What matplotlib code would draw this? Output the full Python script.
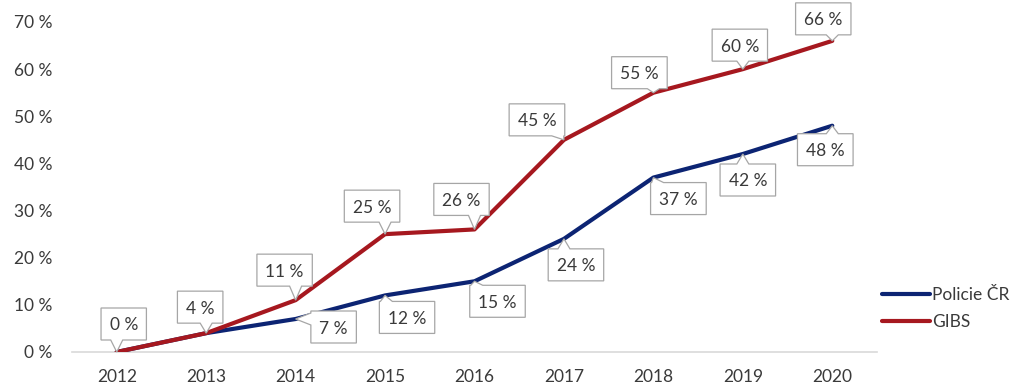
import matplotlib
matplotlib.use("Agg")
import matplotlib.pyplot as plt
import numpy as np
from matplotlib.path import Path
from matplotlib.patches import PathPatch

# ---- data ----
years = ["2012", "2013", "2014", "2015", "2016", "2017", "2018", "2019", "2020"]
policie = [0, 4, 7, 12, 15, 24, 37, 42, 48]
gibs = [0, 4, 11, 25, 26, 45, 55, 60, 66]
y_ticks = [0, 10, 20, 30, 40, 50, 60, 70]

# ---- layout (label box centre offsets from the point, in pixels; +x right, +y up) ----
gibs_off = [(7, 28), (-6, 26), (-11, 30), (-13, 28), (-13, 30), (-27, 20), (-14, 20), (-3, 24), (-9, 22)]
pol_off = [None, None, (38, -8), (22, -22), (23, -20), (12, -26), (25, -21), (5, -26), (-7, -24)]

plt.rcParams['font.family'] = ['Lato', 'DejaVu Sans']
FS = 12.5
TXT = '#3a3a3a'
BLUE = '#0C2473'
RED = '#A6181F'

W, H = 1019, 390
fig = plt.figure(figsize=(W / 100, H / 100), dpi=100)
ax = fig.add_axes([72 / W, 1 - 352 / H, (877 - 72) / W, (352 - 22) / H])

x = np.arange(len(years))
ax.plot(x, policie, color=BLUE, lw=3, solid_capstyle='round', solid_joinstyle='round',
        label='Policie ČR', zorder=3)
ax.plot(x, gibs, color=RED, lw=3, solid_capstyle='round', solid_joinstyle='round',
        label='GIBS', zorder=4)

ax.set_xlim(-0.5, len(years) - 0.5)
ax.set_ylim(0, 70)
ax.set_xticks(x)
ax.set_xticklabels(years)
ax.set_yticks(y_ticks)
ax.set_yticklabels([f"{v} %" for v in y_ticks])
ax.tick_params(axis='both', length=0, labelsize=FS, labelcolor=TXT)
ax.tick_params(axis='y', pad=14)
ax.tick_params(axis='x', pad=12)
for s in ['top', 'right', 'left']:
    ax.spines[s].set_visible(False)
ax.spines['bottom'].set_color('#d9d9d9')
ax.spines['bottom'].set_linewidth(1.2)
ax.spines['bottom'].set_zorder(1)

leg = ax.legend(loc='center left', bbox_to_anchor=(882 / W, 1 - 308.5 / H),
                bbox_transform=fig.transFigure, frameon=False, fontsize=FS,
                handlelength=2.75, handletextpad=0.15, borderpad=0, borderaxespad=0,
                labelspacing=0.6)
for t in leg.get_texts():
    t.set_color(TXT)
for l in leg.get_lines():
    l.set_linewidth(3)

fig.canvas.draw()
renderer = fig.canvas.get_renderer()


def callout(xi, v, off):
    tx, ty = ax.transData.transform((xi, v))
    cx, cy = tx + off[0], ty + off[1]
    t = fig.text(cx, cy, f"{v} %", transform=None, ha='center', va='center_baseline',
                 fontsize=FS, color=TXT, zorder=11)
    bb = t.get_window_extent(renderer)
    w = bb.width + 17
    h = 32
    x0, x1, y0, y1 = cx - w / 2, cx + w / 2, cy - h / 2, cy + h / 2
    dx = 0 if x0 <= tx <= x1 else (tx - x1 if tx > x1 else tx - x0)
    dy = 0 if y0 <= ty <= y1 else (ty - y1 if ty > y1 else ty - y0)
    hw = 6
    verts = [(x0, y0)]
    if abs(dy) >= abs(dx) and dy < 0:
        bx = min(max(tx, x0 + hw + 1), x1 - hw - 1)
        verts += [(bx - hw, y0), (tx, ty), (bx + hw, y0)]
    verts.append((x1, y0))
    if abs(dx) > abs(dy) and dx > 0:
        by = min(max(ty, y0 + hw + 1), y1 - hw - 1)
        verts += [(x1, by - hw), (tx, ty), (x1, by + hw)]
    verts.append((x1, y1))
    if abs(dy) >= abs(dx) and dy > 0:
        bx = min(max(tx, x0 + hw + 1), x1 - hw - 1)
        verts += [(bx + hw, y1), (tx, ty), (bx - hw, y1)]
    verts.append((x0, y1))
    if abs(dx) > abs(dy) and dx < 0:
        by = min(max(ty, y0 + hw + 1), y1 - hw - 1)
        verts += [(x0, by + hw), (tx, ty), (x0, by - hw)]
    verts.append((x0, y0))
    codes = [Path.MOVETO] + [Path.LINETO] * (len(verts) - 2) + [Path.CLOSEPOLY]
    p = PathPatch(Path(verts, codes), transform=None, fc='white', ec='#a6a6a6',
                  lw=0.9, zorder=10, joinstyle='miter')
    fig.add_artist(p)


for i, v in enumerate(gibs):
    callout(i, v, gibs_off[i])
for i, v in enumerate(policie):
    if pol_off[i] is not None:
        callout(i, v, pol_off[i])

fig.savefig("out.png", dpi=100)
